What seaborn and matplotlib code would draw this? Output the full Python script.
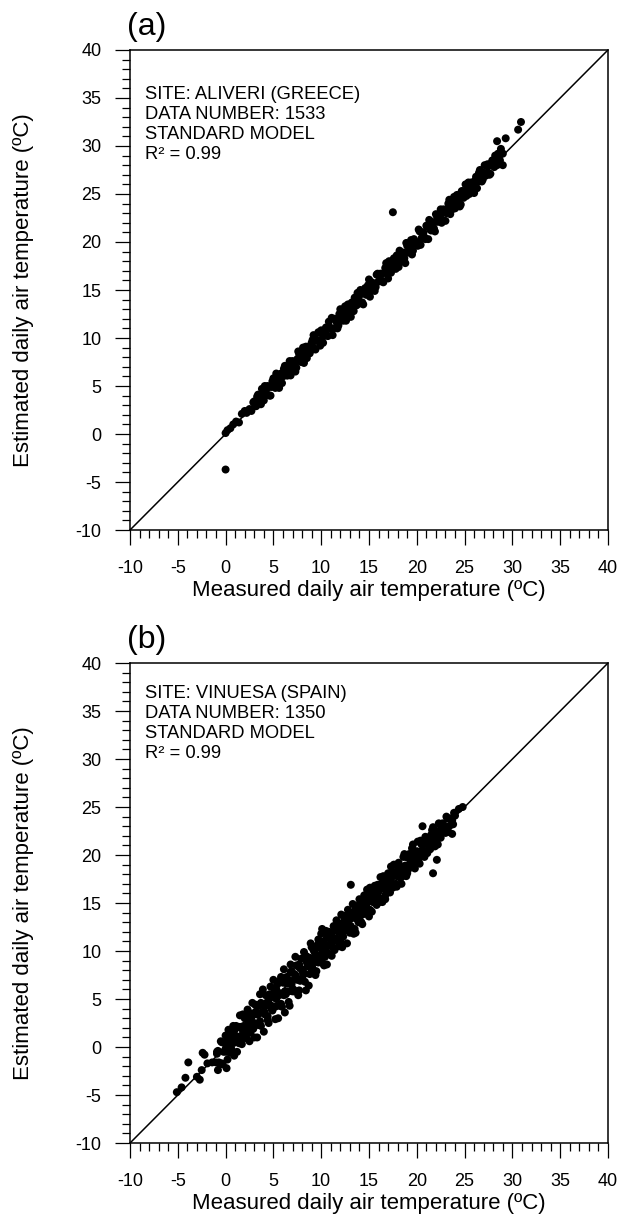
import pandas as pd
import seaborn as sns
import matplotlib.pyplot as plt
from matplotlib.ticker import MultipleLocator

# values (measured, estimated), deg C

# (a) ALIVERI
aliveri_measured = [
    # low tail
    0.0, 0.2, 0.5, 0.8, 1.1, 1.4, 1.7, 2.0, 2.2, 2.5, 2.7, 2.9,
    # main band, first sweep
    3.0, 3.2, 3.4, 3.6, 3.8, 4.0, 4.2, 4.4, 4.6, 4.8,
    5.0, 5.2, 5.4, 5.6, 5.8, 6.0, 6.2, 6.4, 6.6, 6.8,
    7.0, 7.2, 7.4, 7.6, 7.8, 8.0, 8.2, 8.4, 8.6, 8.8,
    9.0, 9.2, 9.4, 9.6, 9.8, 10.0, 10.2, 10.4, 10.6, 10.8,
    11.0, 11.2, 11.4, 11.6, 11.8, 12.0, 12.2, 12.4, 12.6, 12.8,
    13.0, 13.2, 13.4, 13.6, 13.8, 14.0, 14.2, 14.4, 14.6, 14.8,
    15.0, 15.2, 15.4, 15.6, 15.8, 16.0, 16.2, 16.4, 16.6, 16.8,
    17.0, 17.2, 17.4, 17.6, 17.8, 18.0, 18.2, 18.4, 18.6, 18.8,
    19.0, 19.2, 19.4, 19.6, 19.8, 20.0, 20.2, 20.4, 20.6, 20.8,
    21.0, 21.2, 21.4, 21.6, 21.8, 22.0, 22.2, 22.4, 22.6, 22.8,
    23.0, 23.2, 23.4, 23.6, 23.8, 24.0, 24.2, 24.4, 24.6, 24.8,
    25.0, 25.2, 25.4, 25.6, 25.8, 26.0, 26.2, 26.4, 26.6, 26.8,
    27.0, 27.2, 27.4, 27.6, 27.8, 28.0, 28.2, 28.4, 28.6, 28.8,
    29.0,
    # main band, second sweep
    3.1, 3.3, 3.5, 3.7, 3.9, 4.1, 4.3, 4.5, 4.7, 4.9,
    5.1, 5.3, 5.5, 5.7, 5.9, 6.1, 6.3, 6.5, 6.7, 6.9,
    7.1, 7.3, 7.5, 7.7, 7.9, 8.1, 8.3, 8.5, 8.7, 8.9,
    9.1, 9.3, 9.5, 9.7, 9.9, 10.1, 10.3, 10.5, 10.7, 10.9,
    11.1, 11.3, 11.5, 11.7, 11.9, 12.1, 12.3, 12.5, 12.7, 12.9,
    13.1, 13.3, 13.5, 13.7, 13.9, 14.1, 14.3, 14.5, 14.7, 14.9,
    15.1, 15.3, 15.5, 15.7, 15.9, 16.1, 16.3, 16.5, 16.7, 16.9,
    17.1, 17.3, 17.5, 17.7, 17.9, 18.1, 18.3, 18.5, 18.7, 18.9,
    19.1, 19.3, 19.5, 19.7, 19.9, 20.1, 20.3, 20.5, 20.7, 20.9,
    21.1, 21.3, 21.5, 21.7, 21.9, 22.1, 22.3, 22.5, 22.7, 22.9,
    23.1, 23.3, 23.5, 23.7, 23.9, 24.1, 24.3, 24.5, 24.7, 24.9,
    25.1, 25.3, 25.5, 25.7, 25.9, 26.1, 26.3, 26.5, 26.7, 26.9,
    27.1, 27.3, 27.5, 27.7, 27.9, 28.1, 28.3, 28.5, 28.7, 28.9,
    # outliers
    0.0, 17.5, 30.9, 30.6, 29.3, 28.4, 29.0,
]
aliveri_estimated = [
    0.1, 0.4, 0.6, 1.0, 1.3, 1.2, 2.1, 2.4, 2.2, 2.6, 2.4, 3.3,
    3.4, 2.9, 4.1, 3.5, 4.7, 3.5, 4.4, 5.0, 4.0, 4.9,
    5.8, 4.8, 5.7, 4.8, 6.3, 6.0, 7.1, 6.1, 7.0, 6.1,
    7.6, 7.3, 6.9, 8.6, 7.6, 8.3, 7.4, 9.1, 8.6, 8.4,
    9.5, 10.3, 8.8, 9.8, 9.7, 10.8, 9.5, 10.8, 10.3, 11.7,
    11.0, 10.3, 12.0, 11.7, 11.3, 13.0, 12.0, 12.7, 11.8, 13.5,
    12.9, 13.7, 12.8, 13.8, 14.7, 13.6, 14.6, 13.5, 15.2, 14.8,
    16.1, 14.9, 15.7, 14.9, 16.6, 15.9, 16.7, 15.9, 16.8, 17.8,
    16.2, 17.6, 17.2, 18.3, 17.2, 18.1, 19.1, 18.0, 18.9, 17.8,
    19.6, 19.2, 20.2, 19.1, 20.0, 19.8, 21.3, 19.7, 21.0, 20.5,
    21.7, 20.3, 21.5, 22.1, 21.4, 22.9, 22.1, 22.7, 22.0, 23.4,
    22.2, 23.4, 24.4, 23.3, 24.2, 23.5, 24.9, 24.4, 23.9, 25.3,
    25.1, 24.8, 26.2, 25.4, 26.1, 25.1, 26.8, 26.3, 27.5, 26.3,
    27.2, 26.9, 28.1, 27.0, 28.2, 28.0, 29.0, 28.0, 28.9, 29.7,
    29.2,
    2.9, 3.9, 3.6, 3.1, 4.2, 5.0, 4.1, 4.9, 4.0, 5.5,
    5.1, 6.3, 5.2, 5.9, 5.3, 6.8, 6.5, 6.1, 7.6, 6.8,
    7.5, 6.5, 7.8, 8.3, 7.5, 9.0, 8.4, 7.9, 9.1, 8.7,
    9.8, 8.9, 9.7, 10.6, 9.2, 10.4, 10.2, 11.1, 10.2, 11.1,
    12.1, 11.0, 11.9, 11.0, 12.5, 12.2, 11.8, 13.3, 12.5, 13.3,
    12.2, 13.5, 14.2, 13.4, 14.0, 15.0, 13.7, 14.8, 14.5, 15.5,
    14.3, 15.8, 15.6, 15.3, 16.7, 15.9, 16.6, 15.8, 17.3, 16.9,
    18.0, 16.8, 17.7, 17.6, 18.6, 17.4, 18.7, 18.6, 18.3, 19.9,
    18.9, 19.6, 18.7, 20.3, 20.0, 19.6, 21.1, 20.4, 21.0, 20.3,
    21.6, 22.3, 21.2, 21.9, 21.1, 22.7, 22.3, 23.4, 22.3, 23.2,
    23.0, 24.0, 22.9, 23.8, 24.7, 23.9, 24.7, 23.7, 25.3, 24.6,
    26.0, 25.5, 25.0, 26.2, 25.8, 26.4, 25.6, 27.2, 26.8, 26.5,
    28.0, 27.2, 27.9, 27.1, 28.5, 27.8, 28.5, 29.2, 28.5, 29.3,
    -3.7, 23.1, 32.5, 31.7, 30.8, 30.5, 28.0,
]

# (b) VINUESA
vinuesa_measured = [
    # first sweep
    -1.0, -0.8, -0.6, -0.4, -0.2, 0.0, 0.2, 0.4, 0.6, 0.8,
    1.0, 1.2, 1.4, 1.6, 1.8, 2.0, 2.2, 2.4, 2.6, 2.8,
    3.0, 3.2, 3.4, 3.6, 3.8, 4.0, 4.2, 4.4, 4.6, 4.8,
    5.0, 5.2, 5.4, 5.6, 5.8, 6.0, 6.2, 6.4, 6.6, 6.8,
    7.0, 7.2, 7.4, 7.6, 7.8, 8.0, 8.2, 8.4, 8.6, 8.8,
    9.0, 9.2, 9.4, 9.6, 9.8, 10.0, 10.2, 10.4, 10.6, 10.8,
    11.0, 11.2, 11.4, 11.6, 11.8, 12.0, 12.2, 12.4, 12.6, 12.8,
    13.0, 13.2, 13.4, 13.6, 13.8, 14.0, 14.2, 14.4, 14.6, 14.8,
    15.0, 15.2, 15.4, 15.6, 15.8, 16.0, 16.2, 16.4, 16.6, 16.8,
    17.0, 17.2, 17.4, 17.6, 17.8, 18.0, 18.2, 18.4, 18.6, 18.8,
    19.0, 19.2, 19.4, 19.6, 19.8, 20.0, 20.2, 20.4, 20.6, 20.8,
    21.0, 21.2, 21.4, 21.6, 21.8, 22.0, 22.2, 22.4, 22.6, 22.8,
    23.0, 23.2, 23.4, 23.6, 23.8, 24.0,
    # second sweep
    -0.9, -0.7, -0.5, -0.3, -0.1, 0.1, 0.3, 0.5, 0.7, 0.9,
    1.1, 1.3, 1.5, 1.7, 1.9, 2.1, 2.3, 2.5, 2.7, 2.9,
    3.1, 3.3, 3.5, 3.7, 3.9, 4.1, 4.3, 4.5, 4.7, 4.9,
    5.1, 5.3, 5.5, 5.7, 5.9, 6.1, 6.3, 6.5, 6.7, 6.9,
    7.1, 7.3, 7.5, 7.7, 7.9, 8.1, 8.3, 8.5, 8.7, 8.9,
    9.1, 9.3, 9.5, 9.7, 9.9, 10.1, 10.3, 10.5, 10.7, 10.9,
    11.1, 11.3, 11.5, 11.7, 11.9, 12.1, 12.3, 12.5, 12.7, 12.9,
    13.1, 13.3, 13.5, 13.7, 13.9, 14.1, 14.3, 14.5, 14.7, 14.9,
    15.1, 15.3, 15.5, 15.7, 15.9, 16.1, 16.3, 16.5, 16.7, 16.9,
    17.1, 17.3, 17.5, 17.7, 17.9, 18.1, 18.3, 18.5, 18.7, 18.9,
    19.1, 19.3, 19.5, 19.7, 19.9, 20.1, 20.3, 20.5, 20.7, 20.9,
    21.1, 21.3, 21.5, 21.7, 21.9, 22.1, 22.3, 22.5, 22.7, 22.9,
    23.1, 23.3, 23.5, 23.7, 23.9,
    # dense core 0-14
    0.0, 0.2, 0.4, 0.6, 0.8, 1.0, 1.2, 1.4, 1.6, 1.8,
    2.0, 2.2, 2.4, 2.6, 2.8, 3.0, 3.2, 3.4, 3.6, 3.8,
    4.0, 4.2, 4.4, 4.6, 4.8, 5.0, 5.2, 5.4, 5.6, 5.8,
    6.0, 6.2, 6.4, 6.6, 6.8, 7.0, 7.2, 7.4, 7.6, 7.8,
    8.0, 8.2, 8.4, 8.6, 8.8, 9.0, 9.2, 9.4, 9.6, 9.8,
    10.0, 10.2, 10.4, 10.6, 10.8, 11.0, 11.2, 11.4, 11.6, 11.8,
    12.0, 12.2, 12.4, 12.6, 12.8, 13.0, 13.2, 13.4, 13.6, 13.8,
    14.0,
    # dense core 14-23
    14.1, 14.3, 14.5, 14.7, 14.9, 15.1, 15.3, 15.5, 15.7, 15.9,
    16.1, 16.3, 16.5, 16.7, 16.9, 17.1, 17.3, 17.5, 17.7, 17.9,
    18.1, 18.3, 18.5, 18.7, 18.9, 19.1, 19.3, 19.5, 19.7, 19.9,
    20.1, 20.3, 20.5, 20.7, 20.9, 21.1, 21.3, 21.5, 21.7, 21.9,
    22.1, 22.3, 22.5, 22.7, 22.9,
    # centre fill 0-14
    0.1, 0.5, 0.9, 1.3, 1.7, 2.1, 2.5, 2.9, 3.3, 3.7,
    4.1, 4.5, 4.9, 5.3, 5.7, 6.1, 6.5, 6.9, 7.3, 7.7,
    8.1, 8.5, 8.9, 9.3, 9.7, 10.1, 10.5, 10.9, 11.3, 11.7,
    12.1, 12.5, 12.9, 13.3, 13.7,
    # cold tail and outliers
    -5.1, -4.6, -4.2, -3.9, -3.0, -2.7, -2.5, -2.2, -1.9, -1.4,
    -0.9, -0.8, -0.4, 0.1, -2.4, 20.6, 13.1, 22.1, 21.7, 23.7,
    24.8, 13.6, 10.1, 24.4,
]
vinuesa_estimated = [
    -1.6, -0.4, -1.8, 0.5, -0.5, 1.2, -1.3, 0.7, -0.2, 2.2,
    0.8, -0.5, 2.1, 0.7, 3.4, 2.1, 0.9, 3.4, 2.1, 4.6,
    1.0, 3.7, 2.3, 5.5, 3.6, 1.6, 5.4, 2.8, 5.2, 4.0,
    7.0, 2.9, 5.6, 4.3, 7.3, 5.5, 3.6, 7.3, 4.7, 8.6,
    6.9, 5.8, 8.5, 5.4, 8.2, 7.1, 9.9, 5.9, 9.3, 7.6,
    10.4, 8.8, 7.5, 10.6, 9.0, 11.8, 8.7, 10.7, 8.6, 12.0,
    10.7, 12.0, 10.1, 13.2, 11.1, 12.2, 10.4, 13.5, 12.2, 14.3,
    11.9, 13.7, 11.8, 14.5, 13.6, 15.4, 13.0, 14.8, 13.9, 16.4,
    13.6, 15.9, 15.1, 16.8, 14.8, 16.2, 17.7, 15.1, 17.2, 16.3,
    18.1, 16.1, 17.7, 19.0, 17.0, 18.8, 18.0, 17.0, 19.8, 18.9,
    18.1, 20.1, 19.0, 21.1, 18.6, 20.4, 19.6, 21.5, 20.5, 19.8,
    21.7, 21.4, 20.6, 22.6, 21.5, 22.5, 21.1, 23.2, 22.4, 23.1,
    22.3, 23.8, 23.0, 23.8, 23.2, 24.1,
    -0.7, -1.6, 0.6, -1.8, 0.4, -0.5, 1.8, -0.6, 1.3, -0.9,
    2.2, 0.9, 3.3, 0.3, 2.2, 1.3, 3.9, 0.6, 3.1, 1.9,
    4.4, 1.0, 4.3, 2.2, 6.0, 3.4, 4.6, 2.5, 6.3, 3.8,
    6.0, 5.0, 3.0, 6.9, 4.2, 8.1, 5.5, 7.0, 4.3, 7.9,
    6.0, 9.4, 7.0, 5.9, 9.2, 7.9, 6.8, 9.4, 6.4, 10.8,
    8.2, 9.9, 7.9, 11.2, 9.6, 11.0, 8.5, 12.1, 9.8, 11.3,
    9.5, 12.6, 11.3, 12.4, 10.5, 13.8, 11.5, 13.0, 10.8, 13.9,
    12.6, 14.9, 12.3, 14.0, 13.0, 15.0, 12.8, 15.8, 14.8, 14.0,
    16.6, 14.1, 16.0, 15.3, 16.9, 15.1, 16.6, 17.8, 15.4, 17.6,
    16.8, 18.8, 16.6, 18.2, 16.7, 19.2, 18.6, 17.8, 20.1, 17.8,
    19.7, 19.1, 20.7, 19.0, 20.0, 21.4, 19.1, 21.1, 20.3, 21.9,
    20.2, 21.7, 21.0, 22.9, 20.9, 22.3, 23.3, 21.8, 23.3, 22.6,
    24.0, 22.4, 23.8, 23.6, 24.4,
    -0.2, 0.8, -0.5, 0.8, 0.4, 1.9, 1.1, 0.4, 2.1, 1.2,
    3.0, 1.9, 2.7, 1.5, 3.5, 2.5, 4.4, 3.4, 2.7, 4.4,
    3.7, 4.3, 3.2, 5.5, 4.3, 5.3, 4.2, 6.5, 5.4, 4.5,
    6.7, 5.8, 6.6, 5.8, 7.8, 5.8, 7.6, 7.1, 8.4, 6.9,
    8.1, 7.6, 9.5, 8.4, 9.3, 7.9, 10.1, 9.4, 8.9, 10.4,
    9.6, 10.4, 9.4, 11.4, 10.6, 11.5, 10.4, 12.4, 11.2, 12.0,
    11.0, 12.9, 12.1, 13.7, 12.2, 13.3, 12.3, 14.0, 13.4, 14.7,
    13.5,
    14.4, 13.8, 15.3, 14.5, 15.3, 14.3, 15.4, 16.4, 15.3, 16.1,
    15.5, 17.0, 16.5, 15.8, 17.4, 16.9, 18.1, 17.0, 18.0, 17.8,
    18.7, 17.6, 18.7, 18.4, 19.8, 18.5, 19.7, 19.5, 20.4, 19.1,
    20.3, 20.0, 21.3, 20.1, 21.2, 21.1, 20.6, 22.1, 21.5, 22.3,
    21.6, 22.5, 22.4, 23.2, 22.5,
    0.5, 0.2, 1.7, 0.6, 1.9, 1.9, 3.1, 2.1, 3.4, 4.6,
    3.6, 4.9, 4.0, 6.0, 5.6, 5.4, 7.0, 6.5, 7.5, 8.6,
    7.5, 8.8, 8.7, 10.1, 8.8, 10.2, 10.0, 11.5, 11.0, 12.6,
    11.4, 12.7, 12.5, 14.0, 13.6,
    -4.7, -4.2, -3.2, -1.6, -3.1, -3.4, -2.4, -0.8, -1.7, -1.6,
    -0.5, -2.4, -1.7, -2.2, -0.6, 23.0, 16.9, 19.5, 18.1, 22.2,
    25.0, 11.9, 12.3, 24.8,
]

ticks = [-10, -5, 0, 5, 10, 15, 20, 25, 30, 35, 40]
panel_labels = ['(a)', '(b)']
site_lines = [
    ['SITE: ALIVERI (GREECE)', 'DATA NUMBER: 1533', 'STANDARD MODEL', 'R\u00b2 = 0.99'],
    ['SITE: VINUESA (SPAIN)', 'DATA NUMBER: 1350', 'STANDARD MODEL', 'R\u00b2 = 0.99'],
]

sns.set_style('ticks', {'axes.edgecolor': 'black', 'xtick.color': 'black',
                        'ytick.color': 'black', 'text.color': 'black',
                        'axes.labelcolor': 'black'})
plt.rcParams['font.family'] = ['Liberation Sans', 'DejaVu Sans']
plt.rcParams['axes.unicode_minus'] = False

data_a = pd.DataFrame({'measured': aliveri_measured, 'estimated': aliveri_estimated})
data_b = pd.DataFrame({'measured': vinuesa_measured, 'estimated': vinuesa_estimated})

fig = plt.figure(figsize=(6.19, 12.19), dpi=100)
ax_a = fig.add_axes([0.210, 0.5652, 0.7722, 0.3938])
ax_b = fig.add_axes([0.210, 0.0623, 0.7722, 0.3938])

# top of the first text line, axes fraction
text_tops = [0.925, 0.954]

for ax, df, lab, lines, top in zip([ax_a, ax_b], [data_a, data_b], panel_labels, site_lines, text_tops):
    ax.axline((0, 0), slope=1, color='black', lw=1.1, zorder=1)
    sns.scatterplot(data=df, x='measured', y='estimated', ax=ax, color='black',
                    s=33, edgecolor='none', linewidth=0, legend=False, zorder=2)
    ax.set_xlim(-10, 40)
    ax.set_ylim(-10, 40)
    ax.set_xticks(ticks)
    ax.set_yticks(ticks)
    ax.xaxis.set_minor_locator(MultipleLocator(1))
    ax.yaxis.set_minor_locator(MultipleLocator(1))
    ax.tick_params(which='major', direction='out', length=10.5, width=0.9, labelsize=13)
    ax.tick_params(which='minor', direction='out', length=5.5, width=0.9)
    ax.tick_params(axis='x', which='major', pad=11)
    ax.tick_params(axis='y', which='major', pad=10)
    for sp in ax.spines.values():
        sp.set_visible(True)
        sp.set_linewidth(1.1)
        sp.set_color('black')

    ax.set_xlabel('Measured daily air temperature (\u00baC)', fontsize=16)
    ax.set_ylabel('Estimated daily air temperature (\u00baC)', fontsize=16)
    ax.xaxis.set_label_coords(0.5, -0.105)
    ax.yaxis.set_label_coords(-0.2, 0.5)

    for i, line in enumerate(lines):
        ax.text(0.031, top - i * 0.0417, line, transform=ax.transAxes,
                ha='left', va='top', fontsize=13.2)
    ax.text(-0.006, 1.048, lab, transform=ax.transAxes, ha='left', va='center', fontsize=23)

fig.savefig('out.png', dpi=100)
